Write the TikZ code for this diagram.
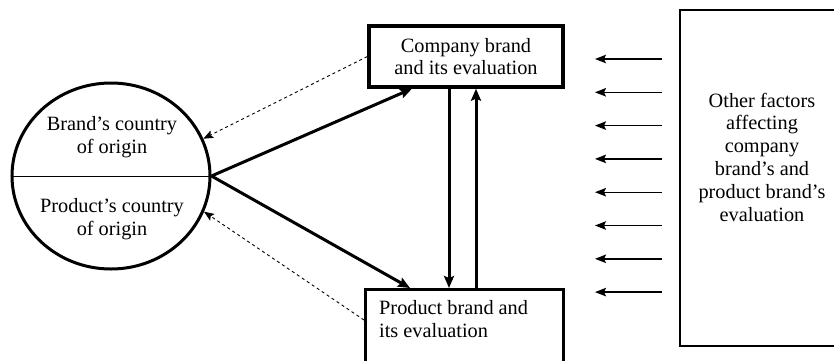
\documentclass[tikz,border=0pt]{standalone}
\usepackage{fontspec}
\setmainfont{Liberation Serif}
\usetikzlibrary{arrows.meta,shapes.geometric,positioning}

\begin{document}
\begin{tikzpicture}[x=1pt, y=-1pt,
    %Option for nice arrows
    >={Stealth[length=12pt,width=10pt,inset=2pt]}, %
    every node/.style={font=\fontsize{20.3}{22.8}\selectfont, inner sep=0pt},
    brandbox/.style={draw, rectangle, line width=3.3pt},
    origin/.style={draw, ellipse, line width=3pt, minimum width=198pt, minimum height=186pt},
    link/.style={line width=3pt, ->},
    feedback/.style={dashed, line width=0.9pt, ->, >={Stealth[length=10pt,width=8pt,inset=2pt]}},
    factor/.style={line width=1.4pt, ->, >={Stealth[length=11pt,width=8.5pt,inset=2pt]}},
]
    \useasboundingbox (0,0) rectangle (834,360);

    % Country of origin
    \node[origin] (orig) at (111,176) {};
    \draw[line width=1pt] (orig.west) -- (orig.east);
    \node[align=center] (brandtext) at (112,137) {Brand’s country\\of origin};
    \node[align=center] (prodorigtext) at (112,219) {Product’s country\\of origin};

    % Brands
    \node[brandbox, align=center, minimum width=194pt, minimum height=61pt] (comp) at (466,56.5)
        {Company brand\\and its evaluation};
    \node[brandbox, anchor=north west, minimum width=198pt, minimum height=100pt] (prod) at (364,288) {};
    \node[align=left, anchor=north west] (prodtext) at ([xshift=15pt,yshift=-12pt]prod.north west)
        {Product brand and\\its evaluation};

    % Other factors
    \node[draw, line width=1.5pt, anchor=north west, minimum width=200pt, minimum height=336pt] (other) at (679,9) {};
    \node[align=center] (othertext) at (762,157)
        {Other factors\\affecting\\company\\brand’s and\\product brand’s\\evaluation};

    % Links
    \draw[link] (orig.east) -- ([xshift=-54pt]comp.south);
    \draw[link] (orig.east) -- ([xshift=46pt]prod.north west);
    \draw[link] ([xshift=-17pt]comp.south) -- ([xshift=-17pt]comp.south |- prod.north);
    \draw[link] ([xshift=10pt]comp.south |- prod.north) -- ([xshift=10pt]comp.south);

    \draw[feedback] (comp.west) -- (orig.22);
    \draw[feedback] ([yshift=-32pt]prod.north west) -- (orig.-21);

    \foreach \i in {0,...,7} {
        \coordinate (tail\i) at (662,{59+33.3*\i});
        \coordinate (head\i) at (595,{59+33.3*\i});
        \draw[factor] (tail\i) -- (head\i);
    }
\end{tikzpicture}
\end{document}
